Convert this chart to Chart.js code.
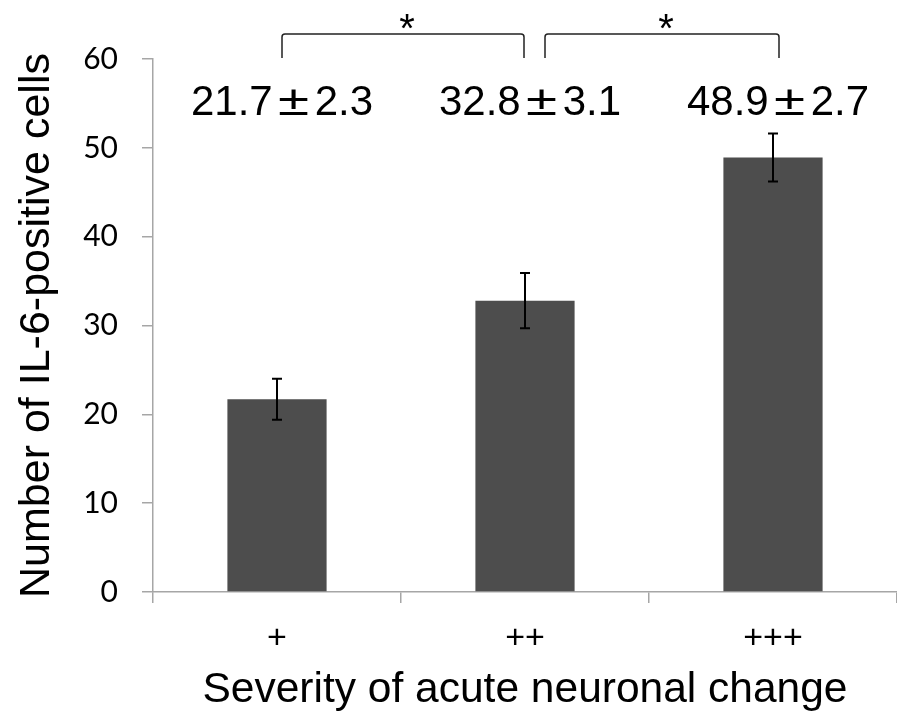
<!DOCTYPE html>
<html lang="en">
<head>
<meta charset="UTF-8">
<title>IL-6-positive cells</title>
<script src="https://cdn.jsdelivr.net/npm/chart.js"></script>
<style>
  html, body { margin: 0; padding: 0; background: #fff; }
</style>
</head>
<body>
<canvas id="myChart" width="897" height="716"></canvas>
<script>
// data
const severity = ['+', '++', '+++'];
const meanCells = [21.7, 32.8, 48.9];
const sdCells = [2.3, 3.1, 2.7];
const yTicks = [0, 10, 20, 30, 40, 50, 60];
const sigPairs = [[0, 1], [1, 2]];
const sigMarks = ['*', '*'];

const axisGray = '#a6a6a6';
const labelFont = '"Liberation Sans", Arial, sans-serif';

// error bars, mean±sd text, significance brackets
const overlay = {
    id: 'overlay',
    afterDatasetsDraw(chart) {
        const ctx = chart.ctx;
        const x = chart.scales.x, y = chart.scales.y;
        const top = chart.chartArea.top;
        ctx.save();

        // error bars
        ctx.strokeStyle = '#000';
        ctx.lineWidth = 2;
        meanCells.forEach((m, i) => {
            const cx = x.getPixelForValue(i);
            const yt = y.getPixelForValue(m + sdCells[i]);
            const yb = y.getPixelForValue(m - sdCells[i]);
            ctx.beginPath();
            ctx.moveTo(cx, yt); ctx.lineTo(cx, yb);
            ctx.moveTo(cx - 5, yt); ctx.lineTo(cx + 5, yt);
            ctx.moveTo(cx - 5, yb); ctx.lineTo(cx + 5, yb);
            ctx.stroke();
        });

        // "mean±sd" labels, the ± is a wide full-width glyph in the original
        ctx.fillStyle = '#000';
        ctx.font = '42px ' + labelFont;
        ctx.textBaseline = 'alphabetic';
        ctx.textAlign = 'left';
        meanCells.forEach((m, i) => {
            const a = m.toFixed(1), b = sdCells[i].toFixed(1);
            const wa = ctx.measureText(a).width, wb = ctx.measureText(b).width;
            const slot = 42, wpm = ctx.measureText('±').width * 1.35;
            const total = wa + slot + wb;
            const sx = x.getPixelForValue(i) - total / 2 + 5;
            const by = top + 56;
            ctx.fillText(a, sx, by);
            ctx.save();
            ctx.translate(sx + wa + (slot - wpm) / 2, by);
            ctx.scale(1.35, 1);
            ctx.fillText('±', 0, 0);
            ctx.restore();
            ctx.fillText(b, sx + wa + slot, by);
        });

        // brackets with stars
        ctx.strokeStyle = '#222';
        ctx.lineWidth = 1.5;
        ctx.lineJoin = 'round';
        const legY = top - 1, barY = top - 25;
        const offs = [[5, -1], [20, 6]];
        sigPairs.forEach((p, k) => {
            const x1 = x.getPixelForValue(p[0]) + offs[k][0];
            const x2 = x.getPixelForValue(p[1]) + offs[k][1];
            ctx.beginPath();
            ctx.moveTo(x1, legY);
            ctx.lineTo(x1, barY + 3);
            ctx.quadraticCurveTo(x1, barY, x1 + 3, barY);
            ctx.lineTo(x2 - 3, barY);
            ctx.quadraticCurveTo(x2, barY, x2, barY + 3);
            ctx.lineTo(x2, legY);
            ctx.stroke();
            ctx.font = '40px ' + labelFont;
            ctx.textAlign = 'center';
            ctx.fillText(sigMarks[k], (x1 + x2) / 2 + 4, barY + 8);
        });
        ctx.restore();
    }
};

const ctx = document.getElementById('myChart').getContext('2d');
const myChart = new Chart(ctx, {
    type: 'bar',
    data: {
        labels: severity,
        datasets: [{
            label: 'IL-6-positive cells',
            data: meanCells,
            backgroundColor: '#4d4d4d',
            borderWidth: 0,
            barPercentage: 0.4,
            categoryPercentage: 1.0
        }]
    },
    options: {
        responsive: false,
        animation: false,
        devicePixelRatio: 1,
        layout: { padding: { top: 59, left: 0, right: 0, bottom: 0 } },
        plugins: {
            legend: { display: false },
            tooltip: { enabled: false }
        },
        scales: {
            x: {
                grid: { offset: true, drawOnChartArea: false, tickLength: 11, color: axisGray, lineWidth: 1.5 },
                border: { color: axisGray, width: 1.5 },
                ticks: { color: '#000', padding: 15, font: { family: labelFont, size: 34 } },
                title: {
                    display: true,
                    text: 'Severity of acute neuronal change',
                    color: '#000',
                    font: { family: labelFont, size: 42.5 },
                    padding: { top: 0, bottom: 0 }
                },
                afterFit(s) { s.height = 124; }
            },
            y: {
                min: 0,
                max: 60,
                afterBuildTicks(s) { s.ticks = yTicks.map(v => ({ value: v })); },
                grid: { drawOnChartArea: false, tickLength: 11, color: axisGray, lineWidth: 1.5 },
                border: { color: axisGray, width: 1.5 },
                ticks: { color: '#000', padding: 24, font: { family: 'Lato', size: 30 } },
                title: {
                    display: true,
                    text: 'Number of IL-6-positive cells',
                    color: '#000',
                    font: { family: labelFont, size: 43 },
                    padding: { top: 11, bottom: 0 }
                },
                afterFit(s) { s.width = 153; }
            }
        }
    },
    plugins: [overlay]
});
</script>
</body>
</html>
